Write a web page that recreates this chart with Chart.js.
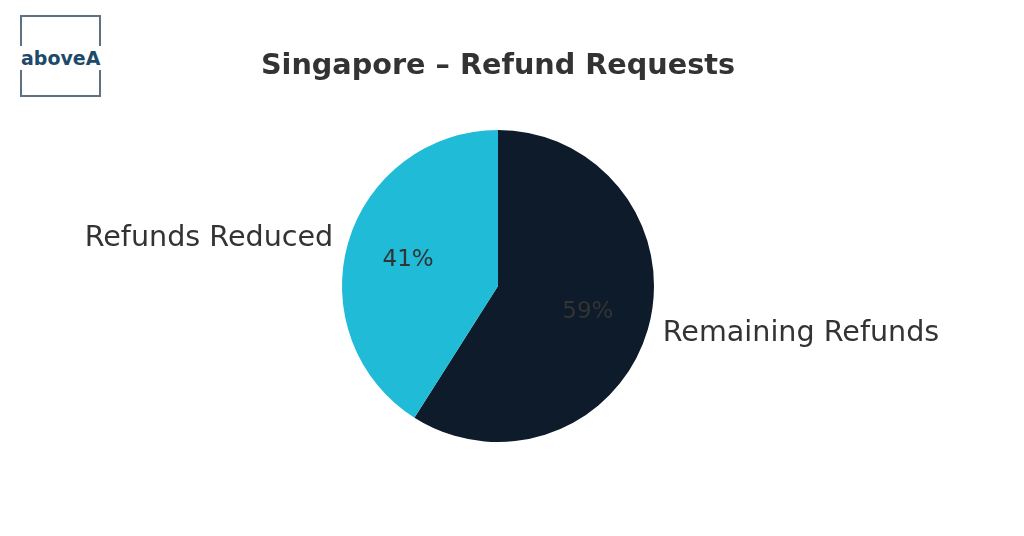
<!DOCTYPE html>
<html>
<head>
<meta charset="utf-8">
<script src="https://cdn.jsdelivr.net/npm/chart.js@4/dist/chart.umd.min.js"></script>
<style>
  html, body { margin: 0; padding: 0; background: #fff; }
  #wrap { position: relative; width: 1024px; height: 536px; }
  #logo { position: absolute; left: 20px; top: 15px; width: 81px; height: 82px;
          border: 2px solid #5f7080; box-sizing: border-box; }
  #logo span { position: absolute; left: -2px; top: 29px; padding: 0 1px; background: #fff;
               font-family: 'DejaVu Sans', sans-serif; font-weight: bold; font-size: 19px; color: #1e4a6a;
               line-height: 24px; }
</style>
</head>
<body>
<div id="wrap">
  <canvas id="chart" width="1024" height="536"></canvas>
  <div id="logo"><span>aboveA</span></div>
</div>
<script>
// chart data
const chartTitle = 'Singapore – Refund Requests';
const categories = ['Remaining Refunds', 'Refunds Reduced'];
const values = [59, 41];
const sliceColors = ['#0e1b2b', '#1fbbd7'];

const FONT = "'DejaVu Sans', sans-serif";

// draws title, outer labels and percentages like a matplotlib pie
const pieText = {
    id: 'pieText',
    afterDraw(chart) {
        const ctx = chart.ctx;
        const total = values.reduce((a, b) => a + b, 0);
        ctx.save();
        ctx.fillStyle = '#333333';
        ctx.textBaseline = 'middle';

        ctx.font = 'bold 28.7px ' + FONT;
        ctx.textAlign = 'center';
        ctx.fillText(chartTitle, 498, 67);

        chart.getDatasetMeta(0).data.forEach((arc, i) => {
            const p = arc.getProps(['x', 'y', 'startAngle', 'endAngle', 'outerRadius'], true);
            const mid = (p.startAngle + p.endAngle) / 2;
            const cx = Math.cos(mid), cy = Math.sin(mid);

            ctx.font = '28.6px ' + FONT;
            ctx.textAlign = cx >= 0 ? 'left' : 'right';
            ctx.fillText(categories[i], p.x + cx * p.outerRadius * 1.1, p.y + cy * p.outerRadius * 1.1);

            ctx.font = '23px ' + FONT;
            ctx.textAlign = 'center';
            const pct = Math.round(values[i] / total * 100) + '%';
            ctx.fillText(pct, p.x + cx * p.outerRadius * 0.6, p.y + cy * p.outerRadius * 0.6);
        });
        ctx.restore();
    }
};

new Chart(document.getElementById('chart'), {
    type: 'pie',
    data: {
        labels: categories,
        datasets: [{
            data: values,
            backgroundColor: sliceColors,
            borderWidth: 0
        }]
    },
    options: {
        responsive: false,
        animation: false,
        layout: {
            padding: { left: 342, right: 370, top: 130, bottom: 94 }
        },
        plugins: {
            legend: { display: false },
            title: { display: false },
            tooltip: { enabled: false }
        }
    },
    plugins: [pieText]
});
</script>
</body>
</html>
